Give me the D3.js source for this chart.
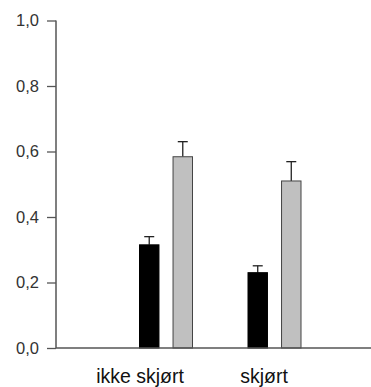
<!DOCTYPE html>
<html>
<head>
<meta charset="utf-8">
<script src="https://cdn.jsdelivr.net/npm/d3@7"></script>
<style>
  html, body { margin: 0; padding: 0; background: #fff; }
  svg { display: block; font-family: "Liberation Sans", Arial, sans-serif; }
</style>
</head>
<body>
<svg id="chart" width="371" height="387"></svg>
<script>
// Groups and series
const categories = ["ikke skjørt", "skjørt"];
const series = ["black", "grey"];
// Mean values per group, [black, grey]
const blackValues = [0.315, 0.230];
const greyValues = [0.584, 0.510];
// Upper error bar ends
const blackErrTop = [0.340, 0.251];
const greyErrTop = [0.630, 0.569];
const yTicks = [0, 0.2, 0.4, 0.6, 0.8, 1.0];

const svg = d3.select("#chart");
const axisColor = "#555";

const y = d3.scaleLinear().domain([0, 1]).range([348, 20.5]);

// Bar groups
const x0 = d3.scaleBand().domain(categories).range([111.75, 328.75]);
const x1 = d3.scaleBand().domain(series).range([0, 54]).paddingInner(0.39);
// Category labels
const xLabel = d3.scalePoint().domain(categories).range([140, 264]);

const rows = categories.map((c, i) => ({
  cat: c,
  bars: [
    { s: "black", v: blackValues[i], e: blackErrTop[i] },
    { s: "grey", v: greyValues[i], e: greyErrTop[i] }
  ]
}));

const fill = { black: "#000", grey: "#c0c0c0" };
const stroke = { black: "#000", grey: "#444" };

const g = svg.selectAll("g.grp").data(rows).join("g")
  .attr("class", "grp")
  .attr("transform", d => `translate(${x0(d.cat) + x0.bandwidth() / 2 - 27},0)`);

// error bars (upper only)
g.selectAll("g.err").data(d => d.bars).join("g").attr("class", "err")
  .each(function(d) {
    const cx = x1(d.s) + x1.bandwidth() / 2;
    const sel = d3.select(this);
    sel.append("line").attr("x1", cx).attr("x2", cx)
      .attr("y1", y(d.v)).attr("y2", y(d.e))
      .attr("stroke", "#222").attr("stroke-width", 1.3);
    sel.append("line").attr("x1", cx - 5).attr("x2", cx + 5)
      .attr("y1", y(d.e)).attr("y2", y(d.e))
      .attr("stroke", "#222").attr("stroke-width", 1.3);
  });

g.selectAll("rect").data(d => d.bars).join("rect")
  .attr("x", d => x1(d.s) + 0.5)
  .attr("width", x1.bandwidth() - 1)
  .attr("y", d => y(d.v))
  .attr("height", d => y(0) - y(d.v))
  .attr("fill", d => fill[d.s])
  .attr("stroke", d => stroke[d.s])
  .attr("stroke-width", 1);

// Y axis
const yAxis = d3.axisLeft(y).tickValues(yTicks).tickSize(9).tickPadding(8)
  .tickFormat(d => d3.format(".1f")(d).replace(".", ","));
const ya = svg.append("g").attr("transform", "translate(56,0)").call(yAxis);
ya.select(".domain").attr("stroke", axisColor).attr("stroke-width", 1.5)
  .attr("d", `M0,${y(1)}V${y(0)}`);
ya.selectAll(".tick line").attr("stroke", axisColor).attr("stroke-width", 1.3);
ya.selectAll(".tick text").attr("fill", "#333").attr("font-size", 16.5)
  .attr("font-family", "Liberation Sans, Arial, sans-serif");

// X axis baseline
svg.append("line").attr("x1", 56).attr("x2", 371)
  .attr("y1", y(0)).attr("y2", y(0))
  .attr("stroke", axisColor).attr("stroke-width", 1.5);

// Category labels
svg.selectAll("text.cat").data(categories).join("text")
  .attr("class", "cat")
  .attr("x", d => xLabel(d))
  .attr("y", 383)
  .attr("text-anchor", "middle")
  .attr("font-size", 19.5)
  .attr("fill", "#111")
  .text(d => d);
</script>
</body>
</html>
